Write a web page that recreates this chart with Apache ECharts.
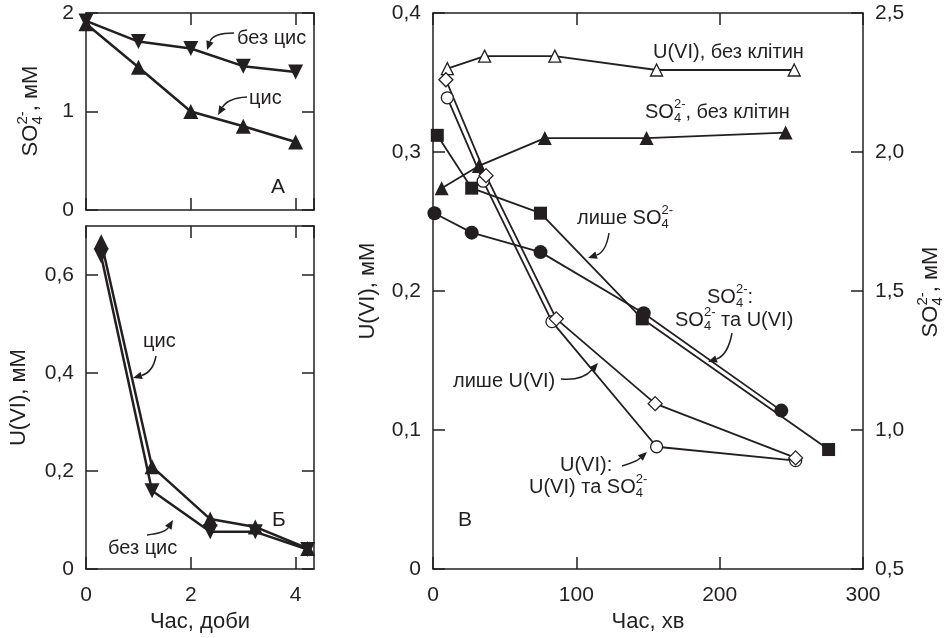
<!DOCTYPE html>
<html>
<head>
<meta charset="utf-8">
<script src="https://cdn.jsdelivr.net/npm/echarts@6/dist/echarts.min.js"></script>
<style>
  html, body { margin: 0; padding: 0; background: #fff; }
  #chart { width: 944px; height: 638px; }
</style>
</head>
<body>
<div id="chart"></div>
<script>
// ---- panel A: sulfate, days
const daysA = [0, 1, 2, 3, 4];
const so4Cys = [1.89, 1.45, 1.0, 0.85, 0.69];
const so4NoCys = [1.92, 1.71, 1.64, 1.46, 1.40];

// ---- panel Б: U(VI), days
const daysB = [0.29, 1.26, 2.37, 3.23, 4.23];
const uCys = [0.668, 0.209, 0.102, 0.086, 0.042];
const uNoCys = [0.639, 0.16, 0.076, 0.076, 0.040];

// ---- panel В: minutes
const tUNoCells = [10, 36, 85, 156, 252];
const uNoCells = [0.360, 0.369, 0.369, 0.359, 0.359];
const tSNoCells = [6, 32, 78, 149, 246];
const sNoCells = [1.87, 1.95, 2.05, 2.05, 2.07];
const tSOnly = [3, 27, 75, 146, 276];
const sOnly = [2.06, 1.87, 1.78, 1.40, 0.93];
const tSWithU = [1, 27, 75, 147, 243];
const sWithU = [1.78, 1.71, 1.64, 1.42, 1.07];
const tUWithS = [10, 35, 83, 156, 253];
const uWithS = [0.339, 0.279, 0.178, 0.088, 0.078];
const tUOnly = [9, 37, 86, 155, 253];
const uOnly = [0.352, 0.283, 0.180, 0.119, 0.080];

const ink = '#231f20';
const FONT = '"Liberation Sans", Arial, sans-serif';

const zip = (xs, ys) => xs.map((x, i) => [x, ys[i]]);
const dec = v => v === 0 ? '0' : v.toFixed(1).replace('.', ',');

const ctx = document.createElement('canvas').getContext('2d');
function tw(s, size) {
  ctx.font = size + 'px ' + FONT;
  return ctx.measureText(s).width;
}

// text with stacked sub/superscript, e.g. ['SO', ['4', '2-'], ', мМ']
function note(x, y, segs, opt) {
  opt = opt || {};
  const size = opt.size || 20;
  const small = Math.round(size * 0.66);
  let cx = 0;
  const kids = [];
  segs.forEach(s => {
    if (Array.isArray(s)) {
      kids.push({ type: 'text', x: cx, y: size * 0.3, style: { text: s[0], fontSize: small, fontFamily: FONT, fill: ink, verticalAlign: 'middle' } });
      kids.push({ type: 'text', x: cx, y: -size * 0.36, style: { text: s[1], fontSize: small, fontFamily: FONT, fill: ink, verticalAlign: 'middle' } });
      cx += Math.max(tw(s[0], small), tw(s[1], small));
    } else {
      kids.push({ type: 'text', x: cx, y: 0, style: { text: s, fontSize: size, fontFamily: FONT, fill: ink, verticalAlign: 'middle' } });
      cx += tw(s, size);
    }
  });
  const shift = opt.center ? -cx / 2 : 0;
  kids.forEach(k => { k.x += shift; });
  return { type: 'group', x: x, y: y, rotation: opt.rotation || 0, children: kids };
}

function arrow(p0, c, p1) {
  const dx = p1[0] - c[0], dy = p1[1] - c[1];
  const L = Math.hypot(dx, dy);
  const ux = dx / L, uy = dy / L;
  const len = 9, hw = 3.8;
  const bx = p1[0] - ux * len, by = p1[1] - uy * len;
  return [
    { type: 'bezierCurve', shape: { x1: p0[0], y1: p0[1], x2: bx, y2: by, cpx1: c[0], cpy1: c[1] },
      style: { stroke: ink, lineWidth: 1.5, fill: null } },
    { type: 'polygon', shape: { points: [p1, [bx - uy * hw, by + ux * hw], [bx + uy * hw, by - ux * hw]] },
      style: { fill: ink } }
  ];
}

const tick = { show: true, inside: true, length: 12, lineStyle: { color: ink, width: 1.5 } };
const line = { show: true, onZero: false, lineStyle: { color: ink, width: 1.5 } };
const lab = { color: ink, fontSize: 21, fontFamily: FONT };
const nameStyle = { color: ink, fontSize: 22, fontFamily: FONT };

function xAx(grid, pos, min, max, interval, labels, name) {
  return {
    type: 'value', gridIndex: grid, position: pos, min: min, max: max, interval: interval,
    axisLine: line, axisTick: tick, splitLine: { show: false },
    axisLabel: labels ? Object.assign({ margin: 8, padding: [8, 0, 0, 0], showMaxLabel: max === 300 }, lab) : { show: false },
    name: name || '', nameLocation: 'middle', nameGap: 40,
    nameTextStyle: nameStyle
  };
}
function yAx(grid, pos, min, max, interval, fmt, name, gap, showMax) {
  return {
    type: 'value', gridIndex: grid, position: pos, min: min, max: max, interval: interval,
    axisLine: line, axisTick: tick, splitLine: { show: false },
    axisLabel: fmt ? Object.assign({ margin: 12, formatter: fmt, showMaxLabel: showMax !== false }, lab) : { show: false },
    name: name || '', nameLocation: 'middle', nameGap: gap || 50,
    nameTextStyle: nameStyle
  };
}

function ser(x, y, data, sym, size, fill, rot, w) {
  return {
    type: 'line', xAxisIndex: x, yAxisIndex: y, data: data,
    symbol: sym, symbolSize: size, symbolRotate: rot || 0, showAllSymbol: true,
    lineStyle: { color: ink, width: w || 1.8 },
    itemStyle: { color: fill, borderColor: ink, borderWidth: fill === '#fff' ? 1.3 : 0 },
    animation: false, z: fill === '#fff' ? 4 : 3
  };
}

const graphics = [
  // panel A
  note(237, 38, ['без цис']),
  note(249, 98, ['цис']),
  note(271, 187, ['А'], { size: 21 }),
  note(31, 111, ['SO', ['4', '2-'], ', мМ'], { size: 22, center: true, rotation: Math.PI / 2 }),
  // panel Б
  note(143, 341, ['цис']),
  note(108, 548, ['без цис']),
  note(272, 520, ['Б'], { size: 21 }),
  // panel В
  note(653, 52, ['U(VI), без клітин']),
  note(645, 112, ['SO', ['4', '2-'], ', без клітин']),
  note(577, 218, ['лише SO', ['4', '2-']]),
  note(707, 297, ['SO', ['4', '2-'], ':']),
  note(675, 320, ['SO', ['4', '2-'], ' та U(VI)']),
  note(453, 381, ['лише U(VI)']),
  note(560, 465, ['U(VI):']),
  note(529, 487, ['U(VI) та SO', ['4', '2-']]),
  note(458, 520, ['В'], { size: 21 }),
  note(931, 292, ['SO', ['4', '2-'], ', мМ'], { size: 22, center: true, rotation: Math.PI / 2 })
].concat(
  arrow([234, 33], [213, 33], [207, 50]),
  arrow([247, 97], [228, 98], [218, 115]),
  arrow([156, 356], [153, 372], [133, 378]),
  arrow([147, 535], [165, 533], [173, 520]),
  arrow([609, 233], [606, 252], [588, 258]),
  arrow([732, 333], [728, 355], [708, 362]),
  arrow([561, 379], [582, 381], [598, 363]),
  arrow([622, 466], [636, 462], [647, 452])
);

const option = {
  backgroundColor: '#fff',
  animation: false,
  grid: [
    { left: 86, top: 13, width: 228, height: 197 },
    { left: 86, top: 226, width: 228, height: 352 },
    { left: 433, top: 13, width: 430, height: 564 }
  ],
  xAxis: [
    xAx(0, 'bottom', 0, 4.35, 2, false),
    xAx(0, 'top', 0, 4.35, 2, false),
    xAx(1, 'bottom', 0, 4.35, 2, true, 'Час, доби'),
    xAx(1, 'top', 0, 4.35, 2, false),
    xAx(2, 'bottom', 0, 300, 100, true, 'Час, хв'),
    xAx(2, 'top', 0, 300, 100, false)
  ],
  yAxis: [
    yAx(0, 'left', 0, 2, 1, v => String(v)),
    yAx(0, 'right', 0, 2, 1, null),
    yAx(1, 'left', 0, 0.7, 0.2, dec, 'U(VI), мМ', 56, false),
    yAx(1, 'right', 0, 0.7, 0.2, null),
    yAx(2, 'left', 0, 0.4, 0.1, dec, 'U(VI), мМ', 54),
    yAx(2, 'right', 0.5, 2.5, 0.5, v => v.toFixed(1).replace('.', ','))
  ],
  series: [
    ser(0, 0, zip(daysA, so4NoCys), 'triangle', 15, ink, 180, 2.5),
    ser(0, 0, zip(daysA, so4Cys), 'triangle', 15, ink, 0, 2.5),
    ser(2, 2, zip(daysB, uNoCys), 'triangle', 15, ink, 180, 2.5),
    ser(2, 2, zip(daysB, uCys), 'triangle', 15, ink, 0, 2.5),
    ser(4, 4, zip(tUNoCells, uNoCells), 'triangle', 12, '#fff'),
    ser(4, 5, zip(tSNoCells, sNoCells), 'triangle', 14, ink),
    ser(4, 5, zip(tSOnly, sOnly), 'rect', 13, ink),
    ser(4, 5, zip(tSWithU, sWithU), 'circle', 14, ink),
    ser(4, 4, zip(tUWithS, uWithS), 'circle', 12, '#fff'),
    ser(4, 4, zip(tUOnly, uOnly), 'diamond', 14, '#fff')
  ],
  graphic: graphics
};

const myChart = echarts.init(document.getElementById('chart'));
myChart.setOption(option);
</script>
</body>
</html>
